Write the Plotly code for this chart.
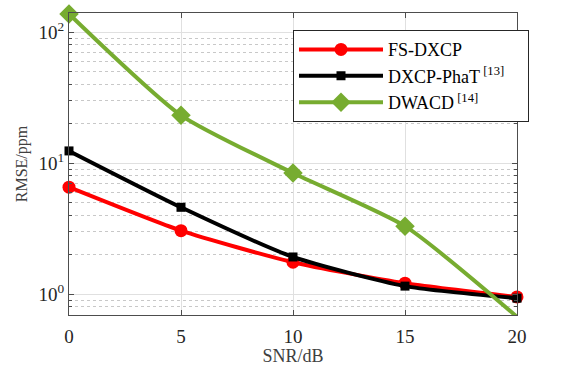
import plotly.graph_objects as go

snr = [0, 5, 10, 15, 20]
fs_dxcp = [6.55, 3.05, 1.75, 1.21, 0.95]
dxcp_phat = [12.4, 4.6, 1.92, 1.15, 0.93]
dwacd = [138, 23.2, 8.4, 3.3, 0.67]

names = ["FS-DXCP",
         "DXCP-PhaT<sup>\u00a0[13]</sup>\u00a0\u00a0\u00a0\u00a0",
         "DWACD<sup>\u00a0[14]</sup>"]
ytickvals = [1, 10, 100]
yticktext = ["10<sup>0</sup>", "10<sup>1</sup>", "10<sup>2</sup>"]

font = "Liberation Serif"

fig = go.Figure()
fig.add_trace(go.Scatter(x=snr, y=fs_dxcp, name=names[0], mode="lines+markers",
                         line=dict(color="#ff0000", width=4, shape="spline", smoothing=0.6),
                         marker=dict(symbol="circle", size=13, color="#ff0000"), cliponaxis=False))
fig.add_trace(go.Scatter(x=snr, y=dxcp_phat, name=names[1], mode="lines+markers",
                         line=dict(color="#000000", width=4, shape="spline", smoothing=0.6),
                         marker=dict(symbol="square", size=9, color="#000000"), cliponaxis=False))
fig.add_trace(go.Scatter(x=snr, y=dwacd, name=names[2], mode="lines+markers",
                         line=dict(color="#77ac30", width=4, shape="spline", smoothing=0.6),
                         marker=dict(symbol="diamond", size=15, color="#77ac30"), cliponaxis=False))

fig.update_layout(
    width=561, height=366,
    margin=dict(l=69, r=44, t=13, b=51),
    paper_bgcolor="white", plot_bgcolor="white",
    font=dict(family=font, color="#262626", size=16),
    legend=dict(x=0.5, y=0.943, xanchor="left", yanchor="top",
                bordercolor="#262626", borderwidth=1, bgcolor="white",
                font=dict(family=font, size=18, color="#000000"),
                itemwidth=84, tracegroupgap=0),
    showlegend=True,
)
fig.update_xaxes(
    range=[0, 20], tickvals=[0, 5, 10, 15, 20],
    showline=True, linecolor="#4d4d4d", linewidth=1, mirror="ticks",
    ticks="inside", ticklen=5, tickcolor="#4d4d4d",
    showgrid=True, gridcolor="#e0e0e0", gridwidth=1, zeroline=False,
    tickfont=dict(family=font, size=19, color="#262626"),
    ticklabelstandoff=4, automargin=False,
    title=dict(text="SNR/dB", font=dict(family=font, size=18, color="#404040"), standoff=2),
)
fig.update_yaxes(
    type="log", range=[-0.16, 2.147],
    tickvals=ytickvals, ticktext=yticktext,
    showline=True, linecolor="#4d4d4d", linewidth=1, mirror="ticks",
    ticks="inside", ticklen=5, tickcolor="#4d4d4d",
    showgrid=True, gridcolor="#e0e0e0", gridwidth=1, zeroline=False,
    tickfont=dict(family=font, size=19, color="#262626"),
    automargin=False,
    minor=dict(dtick="D1", ticks="inside", ticklen=3, tickcolor="#4d4d4d",
               showgrid=True, gridcolor="#c8c8c8", griddash="dot", gridwidth=1),
    title=dict(text="RMSE/ppm", font=dict(family=font, size=16, color="#404040"), standoff=6),
)

fig.write_html("out.html")
